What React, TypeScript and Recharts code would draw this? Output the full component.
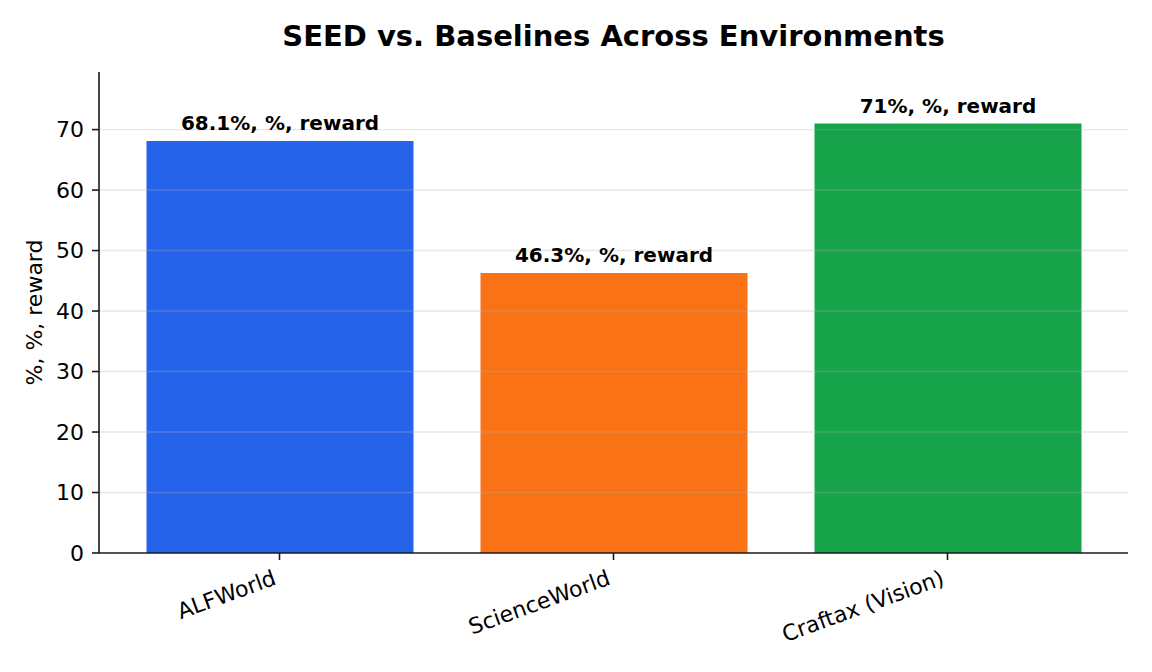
import { Bar, BarChart, Cell, LabelList, ReferenceLine, XAxis, YAxis } from "recharts";

const environments = ["ALFWorld", "ScienceWorld", "Craftax (Vision)"];
const seedScores = [68.1, 46.3, 71];
const barColors = ["#2563eb", "#f97316", "#16a34a"];
const yTicks = [0, 10, 20, 30, 40, 50, 60, 70];
const gridLines = [10, 20, 30, 40, 50, 60, 70];
const yMax = 79.52;

const data = environments.map((env, i) => ({ env, score: seedScores[i] }));

const font = "'DejaVu Sans', sans-serif";
const ink = "#1a1a1a";

const AngledTick = (props: any) => {
  const { x, y, payload } = props;
  const ax = x - 2;
  const ay = y + 24;
  return (
    <text
      x={ax}
      y={ay}
      transform={`rotate(-20, ${ax}, ${ay})`}
      textAnchor="end"
      fontFamily={font}
      fontSize={22}
      fill="#000"
    >
      {payload.value}
    </text>
  );
};

const ValueLabel = (props: any) => {
  const { x, y, width, value } = props;
  return (
    <text
      x={x + width / 2}
      y={y - 11}
      textAnchor="middle"
      fontFamily={font}
      fontWeight="bold"
      fontSize={20}
      fill="#000"
    >
      {`${value}%, %, reward`}
    </text>
  );
};

export default function App() {
  return (
    <div style={{ position: "absolute", left: 0, top: 0, width: 1152, height: 672, background: "#fff" }}>
      <BarChart
        width={1152}
        height={672}
        data={data}
        margin={{ top: 72, right: 24, bottom: 0, left: 0 }}
      >
        <XAxis
          dataKey="env"
          height={119}
          padding={{ left: 13.5, right: 13.5 }}
          tick={<AngledTick />}
          tickSize={7}
          tickMargin={0}
          interval={0}
          stroke={ink}
          strokeWidth={1.6}
          tickLine={{ stroke: ink, strokeWidth: 1.6 }}
        />
        <YAxis
          width={99}
          domain={[0, yMax]}
          ticks={yTicks}
          allowDataOverflow
          tickSize={7}
          tickMargin={8}
          stroke={ink}
          strokeWidth={1.6}
          tickLine={{ stroke: ink, strokeWidth: 1.6 }}
          tick={{ fill: "#000", fontSize: 22, fontFamily: font }}
        />
        <Bar dataKey="score" barSize={267} isAnimationActive={false}>
          {data.map((d, i) => (
            <Cell key={d.env} fill={barColors[i]} />
          ))}
          <LabelList dataKey="score" content={<ValueLabel />} />
        </Bar>
        {gridLines.map((v) => (
          <ReferenceLine key={v} y={v} stroke="#b0b0b0" strokeOpacity={0.3} strokeWidth={1.4} />
        ))}
      </BarChart>
      <svg
        width={1152}
        height={672}
        style={{ position: "absolute", left: 0, top: 0, pointerEvents: "none" }}
      >
        <text
          x={613.5}
          y={46}
          textAnchor="middle"
          fontFamily={font}
          fontWeight="bold"
          fontSize={29}
          fill="#000"
        >
          SEED vs. Baselines Across Environments
        </text>
        <text
          x={42}
          y={312.5}
          transform="rotate(-90, 42, 312.5)"
          textAnchor="middle"
          fontFamily={font}
          fontSize={22}
          fill="#000"
        >
          %, %, reward
        </text>
      </svg>
    </div>
  );
}
